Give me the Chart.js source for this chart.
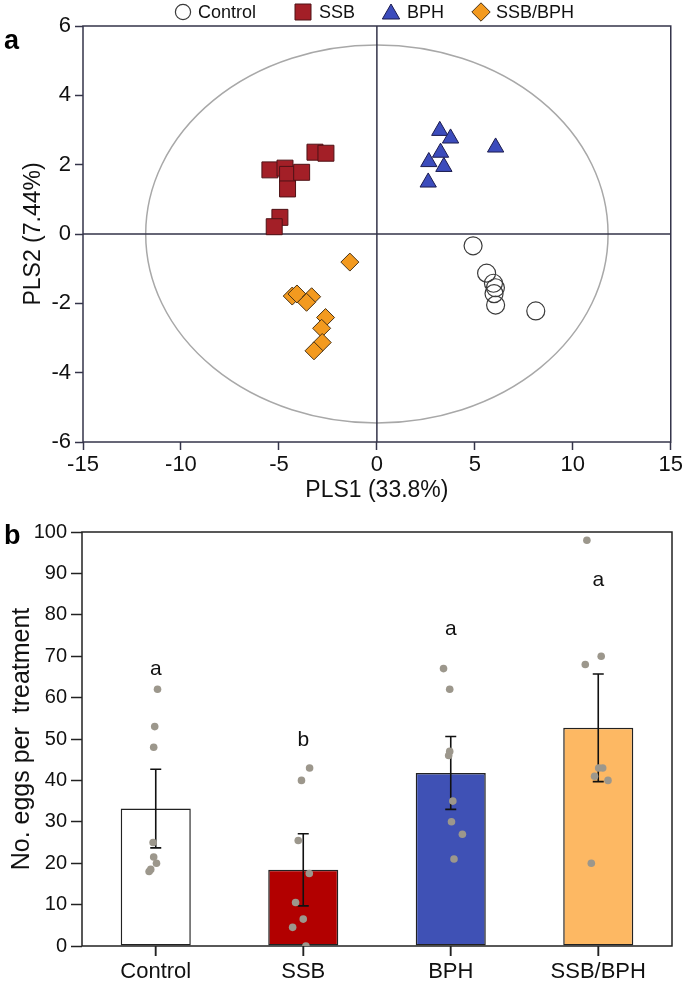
<!DOCTYPE html>
<html><head><meta charset="utf-8">
<script src="https://cdn.jsdelivr.net/npm/chart.js@4/dist/chart.umd.min.js"></script>
<style>
html,body{margin:0;padding:0;background:#fff;}
#wrap{position:relative;width:685px;height:989px;overflow:hidden;}
#c1{position:absolute;left:0;top:0;}
#c2{position:absolute;left:0;top:505px;}
</style></head><body>
<div id="wrap">
<canvas id="c1" width="685" height="505"></canvas>
<canvas id="c2" width="685" height="484"></canvas>
</div>
<script>
// ---------- Panel a: PLS score plot ----------
const controlX = [4.91, 5.60, 5.95, 6.05, 5.98, 6.06, 8.11];
const controlY = [-0.34, -1.13, -1.42, -1.55, -1.72, -2.05, -2.22];
const ssbX = [-3.16, -2.60, -5.46, -4.69, -4.56, -3.84, -4.56, -4.95, -5.24];
const ssbY = [2.36, 2.33, 1.85, 1.90, 1.72, 1.78, 1.30, 0.48, 0.21];
const bphX = [3.21, 3.76, 3.25, 2.65, 3.42, 2.62, 6.06];
const bphY = [2.98, 2.76, 2.35, 2.08, 1.94, 1.49, 2.50];
const ssbBphX = [-1.38, -4.32, -4.08, -3.33, -3.59, -2.62, -2.82, -2.79, -3.21];
const ssbBphY = [-0.81, -1.79, -1.73, -1.81, -1.97, -2.41, -2.72, -3.13, -3.37];
const groupNames = ['Control', 'SSB', 'BPH', 'SSB/BPH'];
const plsXLimits = [-15, 15];
const plsYLimits = [-6, 6];
const ellipseRx = 11.8, ellipseRy = 5.45;
const plsXTitle = 'PLS1 (33.8%)';
const plsYTitle = 'PLS2 (7.44%)';

// ---------- Panel b: egg numbers ----------
const categories = ['Control', 'SSB', 'BPH', 'SSB/BPH'];
const meanEggs = [33.2, 18.4, 41.8, 52.7];
const semEggs = [9.5, 8.7, 8.8, 13.0];
const sigLetters = ['a', 'b', 'a', 'a'];
const sigLetterY = [66.8, 49.8, 76.5, 88.4];
const eggsControl = [62, 53, 48, 25, 21.5, 20, 18.5, 18];
const eggsSSB = [43, 40, 25.5, 17.5, 10.5, 6.5, 4.5, 0];
const eggsBPH = [67, 62, 47, 46, 35, 30, 27, 21];
const eggsSSBBPH = [98, 70, 68, 43, 43, 41, 40, 20];
const jitControl = [0.012, -0.007, -0.014, -0.018, -0.014, 0.005, -0.034, -0.045];
const jitSSB = [0.043, -0.012, -0.034, 0.041, -0.052, 0.000, -0.072, 0.018];
const jitBPH = [-0.049, -0.007, -0.007, -0.014, 0.014, 0.005, 0.079, 0.022];
const jitSSBBPH = [-0.077, 0.020, -0.088, 0.003, 0.030, -0.025, 0.066, -0.047];
const eggYTitle = 'No. eggs per  treatment';

const FONT = "'Liberation Sans', Arial, Helvetica, sans-serif";
const AXIS1 = '#34344a';
const AXIS2 = '#222222';

function zip(a, b) { return a.map((v, i) => ({x: v, y: b[i]})); }

function shape(ctx, style, x, y, r) {
  ctx.beginPath();
  if (style === 'circle') ctx.arc(x, y, r, 0, Math.PI * 2);
  else if (style === 'rect') ctx.rect(x - r, y - r, 2 * r, 2 * r);
  else if (style === 'triangle') { ctx.moveTo(x, y - r); ctx.lineTo(x + 0.866 * r, y + 0.5 * r); ctx.lineTo(x - 0.866 * r, y + 0.5 * r); ctx.closePath(); }
  else if (style === 'rectRot') { ctx.moveTo(x - r, y); ctx.lineTo(x, y - r); ctx.lineTo(x + r, y); ctx.lineTo(x, y + r); ctx.closePath(); }
}

const styles = [
  {pointStyle: 'circle', pointRadius: 9, backgroundColor: 'rgba(255,255,255,0)', borderColor: '#3a3a3a', borderWidth: 1.2},
  {pointStyle: 'rect', pointRadius: 11.3, backgroundColor: '#a31f27', borderColor: '#4e1216', borderWidth: 1},
  {pointStyle: 'triangle', pointRadius: 9.4, backgroundColor: '#3c4cbc', borderColor: '#1b1b4e', borderWidth: 1},
  {pointStyle: 'rectRot', pointRadius: 9, backgroundColor: '#f39a1f', borderColor: '#4a3316', borderWidth: 1}
];

const plsExtras = {
  id: 'plsExtras',
  beforeDatasetsDraw(chart) {
    const {ctx, chartArea: a, scales: {x, y}} = chart;
    ctx.save();
    const cx = x.getPixelForValue(0), cy = y.getPixelForValue(0);
    const rx = x.getPixelForValue(ellipseRx) - cx;
    const ry = cy - y.getPixelForValue(ellipseRy);
    ctx.strokeStyle = '#a8a8a8'; ctx.lineWidth = 1.5;
    ctx.beginPath(); ctx.ellipse(cx, cy, rx, ry, 0, 0, Math.PI * 2); ctx.stroke();
    ctx.strokeStyle = AXIS1; ctx.lineWidth = 1.5;
    ctx.beginPath();
    ctx.moveTo(cx, a.top); ctx.lineTo(cx, a.bottom);
    ctx.moveTo(a.left, cy); ctx.lineTo(a.right, cy);
    ctx.stroke();
    ctx.strokeRect(a.left, a.top, a.right - a.left, a.bottom - a.top);
    ctx.restore();
  },
  afterDraw(chart) {
    const ctx = chart.ctx;
    ctx.save();
    const ly = 12;
    const marks = [
      {cx: 183, r: 7.6, tx: 198, dy: 0},
      {cx: 303, r: 8, tx: 319, dy: 0},
      {cx: 391, r: 10, tx: 407, dy: 2},
      {cx: 481, r: 9.2, tx: 496, dy: 0}
    ];
    chart.data.datasets.forEach((ds, i) => {
      const m = marks[i];
      shape(ctx, ds.pointStyle, m.cx, ly + m.dy, m.r);
      ctx.fillStyle = ds.backgroundColor; ctx.fill();
      ctx.strokeStyle = ds.borderColor; ctx.lineWidth = ds.borderWidth; ctx.stroke();
      ctx.fillStyle = '#111'; ctx.font = '18px ' + FONT;
      ctx.textBaseline = 'middle'; ctx.textAlign = 'left';
      ctx.fillText(ds.label, m.tx, ly + 1);
    });
    ctx.font = 'bold 27px ' + FONT; ctx.fillStyle = '#000';
    ctx.textAlign = 'left'; ctx.textBaseline = 'middle';
    ctx.fillText('a', 4, 42);
    ctx.restore();
  }
};

const xs = [controlX, ssbX, bphX, ssbBphX];
const ys = [controlY, ssbY, bphY, ssbBphY];

new Chart(document.getElementById('c1'), {
  type: 'scatter',
  data: {
    datasets: groupNames.map((n, i) => Object.assign({label: n, data: zip(xs[i], ys[i])}, styles[i]))
  },
  options: {
    responsive: false, animation: false,
    layout: {padding: {top: 26, right: 14, left: 0, bottom: 0}},
    plugins: {legend: {display: false}, tooltip: {enabled: false}},
    elements: {point: {hoverRadius: 0}},
    scales: {
      x: {
        min: plsXLimits[0], max: plsXLimits[1],
        ticks: {stepSize: 5, font: {family: FONT, size: 22}, color: '#111', padding: 2},
        grid: {drawOnChartArea: false, tickLength: 8, tickWidth: 1.5, tickColor: AXIS1},
        border: {display: false},
        title: {display: true, text: plsXTitle, font: {family: FONT, size: 23}, color: '#111', padding: {top: 0, bottom: 1}},
        afterFit(s) { s.height = 63; }
      },
      y: {
        min: plsYLimits[0], max: plsYLimits[1],
        ticks: {stepSize: 2, font: {family: FONT, size: 22}, color: '#111', padding: 4},
        grid: {drawOnChartArea: false, tickLength: 8, tickWidth: 1.5, tickColor: AXIS1},
        border: {display: false},
        title: {display: true, text: plsYTitle, font: {family: FONT, size: 23}, color: '#111', padding: {top: 20, bottom: 0}},
        afterFit(s) { s.width = 83; }
      }
    }
  },
  plugins: [plsExtras]
});

// ---------- bar chart ----------
const eggGroups = [eggsControl, eggsSSB, eggsBPH, eggsSSBBPH];
const jitGroups = [jitControl, jitSSB, jitBPH, jitSSBBPH];
const dotPoints = [];
eggGroups.forEach((g, i) => g.forEach((v, j) => dotPoints.push({x: i + jitGroups[i][j], y: v})));
const barPoints = meanEggs.map((m, i) => ({x: i, y: m}));
const barColors = ['#ffffff', '#b20000', '#3f51b5', '#fdb863'];

const barExtras = {
  id: 'barExtras',
  beforeDatasetsDraw(chart) {
    const {ctx, chartArea: a, scales: {x}} = chart;
    ctx.save();
    ctx.strokeStyle = AXIS2; ctx.lineWidth = 1.5;
    ctx.strokeRect(a.left, a.top, a.right - a.left, a.bottom - a.top);
    // category tick marks below the axis
    ctx.beginPath();
    categories.forEach((c, i) => {
      const px = x.getPixelForValue(i);
      ctx.moveTo(px, a.bottom); ctx.lineTo(px, a.bottom + 10);
    });
    ctx.stroke();
    ctx.restore();
  },
  afterDatasetDraw(chart, args) {
    if (args.index !== 0) return;
    const {ctx, scales: {x, y}} = chart;
    ctx.save();
    ctx.strokeStyle = '#111'; ctx.lineWidth = 1.6;
    meanEggs.forEach((m, i) => {
      const px = x.getPixelForValue(i);
      const t = y.getPixelForValue(m + semEggs[i]);
      const b = y.getPixelForValue(m - semEggs[i]);
      ctx.beginPath();
      ctx.moveTo(px, t); ctx.lineTo(px, b);
      ctx.moveTo(px - 5.5, t); ctx.lineTo(px + 5.5, t);
      ctx.moveTo(px - 5.5, b); ctx.lineTo(px + 5.5, b);
      ctx.stroke();
    });
    ctx.restore();
  },
  afterDraw(chart) {
    const {ctx, scales: {x, y}} = chart;
    ctx.save();
    ctx.fillStyle = '#111'; ctx.font = '21px ' + FONT;
    ctx.textAlign = 'center'; ctx.textBaseline = 'middle';
    sigLetters.forEach((s, i) => {
      ctx.fillText(s, x.getPixelForValue(i), y.getPixelForValue(sigLetterY[i]));
    });
    ctx.font = 'bold 27px ' + FONT; ctx.fillStyle = '#000';
    ctx.textAlign = 'left';
    ctx.fillText('b', 4, 32);
    ctx.restore();
  }
};

new Chart(document.getElementById('c2'), {
  type: 'bar',
  data: {
    datasets: [
      {type: 'bar', data: barPoints, backgroundColor: barColors, borderColor: '#222', borderWidth: 1.5,
       borderSkipped: false, grouped: false, barPercentage: 0.475, categoryPercentage: 1, order: 2},
      {type: 'scatter', data: dotPoints, pointRadius: 3.8, pointHoverRadius: 3.8,
       backgroundColor: '#9c978c', borderWidth: 0, order: 1}
    ]
  },
  options: {
    responsive: false, animation: false,
    layout: {padding: {top: 27, right: 13, left: 0, bottom: 0}},
    plugins: {legend: {display: false}, tooltip: {enabled: false}},
    scales: {
      x: {
        type: 'linear', min: -0.5, max: 3.5, offset: false,
        grid: {offset: false, drawOnChartArea: false, drawTicks: true, tickLength: 10, tickWidth: 1.5, tickColor: AXIS2},
        border: {display: false},
        afterBuildTicks(s) { s.ticks = categories.map((c, i) => ({value: i})); },
        ticks: {autoSkip: false, maxRotation: 0, minRotation: 0,
                font: {family: FONT, size: 22}, color: '#111', padding: 3,
                callback: function (v) { const k = Math.round(Number(v)); return categories[k] || ''; }},
        afterFit(s) { s.height = 43; }
      },
      y: {
        min: 0, max: 100,
        ticks: {stepSize: 10, font: {family: FONT, size: 20}, color: '#111', padding: 4},
        grid: {drawOnChartArea: false, tickLength: 11, tickWidth: 1.5, tickColor: AXIS2},
        border: {display: false},
        title: {display: true, text: eggYTitle, font: {family: FONT, size: 25}, color: '#111', padding: {top: 7, bottom: 0}},
        afterFit(s) { s.width = 82; }
      }
    }
  },
  plugins: [barExtras]
});
</script>
</body></html>
